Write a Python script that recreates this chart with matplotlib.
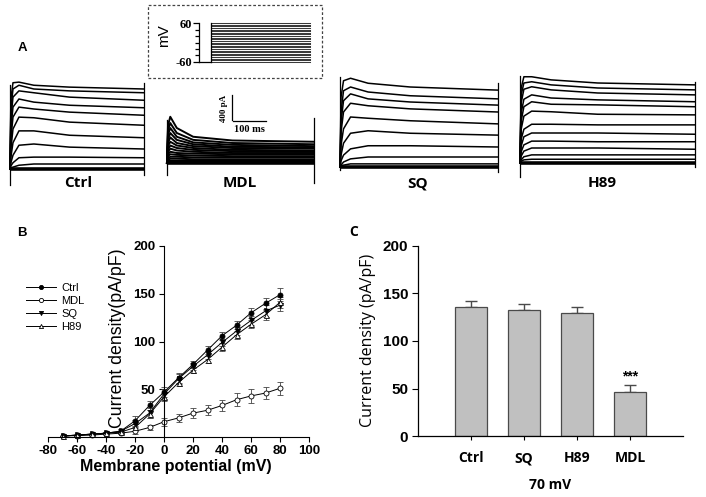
import matplotlib
matplotlib.use('Agg')
import matplotlib.pyplot as plt
from matplotlib.patches import Rectangle
from matplotlib.lines import Line2D
from matplotlib.ticker import MultipleLocator

plt.rcParams['axes.unicode_minus'] = False

# ---------------- data ----------------
trace_time_ms = [0, 3, 10, 30, 80, 200, 450]

ctrl_traces_pA = [
    [0, 1120, 1380, 1390, 1340, 1310, 1280],
    [0, 960, 1280, 1340, 1280, 1250, 1220],
    [0, 800, 1150, 1250, 1220, 1150, 1100],
    [0, 640, 990, 1120, 1070, 1020, 980],
    [0, 480, 830, 990, 960, 910, 860],
    [0, 320, 640, 830, 820, 750, 700],
    [0, 190, 420, 610, 610, 540, 500],
    [0, 100, 220, 380, 400, 350, 320],
    [0, 50, 100, 180, 190, 190, 180],
    [0, 20, 30, 60, 80, 80, 80],
]
mdl_traces_pA = [
    [0, 600, 740, 560, 420, 360, 340],
    [0, 520, 640, 480, 370, 320, 300],
    [0, 450, 560, 420, 330, 290, 270],
    [0, 380, 480, 370, 300, 260, 250],
    [0, 320, 410, 320, 270, 240, 230],
    [0, 270, 340, 280, 240, 210, 200],
    [0, 220, 280, 240, 210, 190, 180],
    [0, 180, 230, 200, 180, 160, 160],
    [0, 140, 180, 160, 150, 140, 140],
    [0, 110, 140, 130, 120, 110, 110],
    [0, 80, 100, 100, 90, 90, 90],
    [0, 50, 70, 70, 60, 60, 60],
    [0, 30, 40, 40, 40, 40, 40],
    [0, 10, 20, 20, 20, 20, 20],
]
sq_traces_pA = [
    [0, 1120, 1380, 1420, 1340, 1280, 1230],
    [0, 880, 1220, 1280, 1200, 1140, 1090],
    [0, 720, 1060, 1170, 1090, 1040, 990],
    [0, 560, 880, 1020, 980, 930, 880],
    [0, 350, 610, 800, 780, 740, 690],
    [0, 190, 380, 540, 580, 540, 510],
    [0, 100, 190, 290, 340, 340, 320],
    [0, 30, 80, 130, 160, 160, 160],
    [0, 20, 30, 50, 50, 50, 50],
]
h89_traces_pA = [
    [0, 1200, 1380, 1380, 1330, 1280, 1250],
    [0, 1090, 1280, 1300, 1250, 1200, 1170],
    [0, 960, 1180, 1220, 1170, 1120, 1090],
    [0, 800, 1020, 1090, 1040, 1010, 980],
    [0, 670, 900, 980, 940, 930, 900],
    [0, 540, 750, 830, 820, 780, 770],
    [0, 380, 540, 620, 620, 610, 610],
    [0, 270, 420, 480, 480, 480, 460],
    [0, 180, 290, 350, 350, 340, 340],
    [0, 110, 190, 240, 240, 240, 220],
    [0, 50, 100, 130, 130, 130, 130],
    [0, 30, 50, 60, 60, 60, 60],
]
# capacitive transients (min, max) at pulse onset and offset, pA
ctrl_on_off_transients = [[-260, 1350], [-100, 1380]]
mdl_on_off_transients = [[-190, 690], [-320, 720]]
sq_on_off_transients = [[-50, 1440], [-80, 1340]]
h89_on_off_transients = [[-230, 1400], [-70, 1300]]

trace_labels = ['Ctrl', 'MDL', 'SQ', 'H89']
scale_bar_pA = 400
scale_bar_ms = 100

protocol_levels_mV = [-60, -55, -50, -45, -40, -35, -30, -25, -20, -15, -10, -5, 0,
                      5, 10, 15, 20, 25, 30, 35, 40, 45, 50, 55, 60]
protocol_holding_mV = -60
protocol_step_ms = [0, 400]
protocol_hold_ms = [-50, 0]

iv_voltage_mV = [-70, -60, -50, -40, -30, -20, -10, 0, 10, 20, 30, 40, 50, 60, 70, 80]
iv_ctrl = [1, 2, 3, 4, 6, 17, 33, 47, 62, 76, 91, 106, 117, 130, 140, 149]
iv_mdl = [1, 1.5, 2, 3, 4, 6, 10, 16, 20, 25, 28, 33, 39, 43, 46, 51]
iv_sq = [1, 2, 3, 4, 6, 14, 25, 45, 61, 74, 86, 99, 111, 122, 132, 138]
iv_h89 = [1, 2, 3, 4, 5, 10, 24, 42, 57, 70, 81, 94, 107, 118, 128, 141]
iv_ctrl_err = [0.5, 0.5, 0.5, 1, 2, 5, 5, 5, 5, 4, 4, 4, 4, 5, 6, 7]
iv_mdl_err = [0.5, 0.5, 0.5, 1, 1, 3, 3, 4, 4, 5, 5, 6, 7, 7, 6, 7]
iv_sq_err = [0.5, 0.5, 0.5, 1, 2, 4, 5, 5, 5, 4, 4, 4, 4, 5, 6, 6]
iv_h89_err = [0.5, 0.5, 0.5, 1, 2, 4, 4, 4, 4, 3, 4, 4, 4, 4, 5, 6]

bar_groups = ['Ctrl', 'SQ', 'H89', 'MDL']
bar_means = [136, 133, 129, 46]
bar_sem = [6, 6, 7, 8]
bar_sig = ['', '', '', '***']

# ---------------- figure ----------------
W, H = 706, 497
fig = plt.figure(figsize=(W / 100, H / 100), dpi=100)
SANS = 'Liberation Sans'
KOR = 'Open Sans'
SERIF = 'Liberation Serif'


def px_axes(x0, y0, x1, y1):
    return fig.add_axes([x0 / W, 1 - y1 / H, (x1 - x0) / W, (y1 - y0) / H])


def ftext(x, y, s, **kw):
    fig.text(x / W, 1 - y / H, s, **kw)


# ---- Panel A: current traces ----
PA_PER_PX = 16
trace_panels = [
    (10, 144, 169, ctrl_traces_pA, ctrl_on_off_transients, 1.1),
    (167, 314, 163, mdl_traces_pA, mdl_on_off_transients, 1.4),
    (340, 498, 167, sq_traces_pA, sq_on_off_transients, 1.1),
    (520, 695, 163, h89_traces_pA, h89_on_off_transients, 1.1),
]
t_end = trace_time_ms[-1]
axes_A = []
for (x0, x1, base, traces, trans, lw_tr) in trace_panels:
    ax = px_axes(x0, 60, x1, 190)
    ax.set_xlim(0, t_end)
    ax.set_ylim((base - 190) * PA_PER_PX, (base - 60) * PA_PER_PX)
    ax.axis('off')
    for tr in traces:
        ax.plot(trace_time_ms, tr, color='black', lw=lw_tr, clip_on=False)
    ax.plot([0, t_end], [0, 0], color='black', lw=2.6, clip_on=False,
            solid_capstyle='butt')
    ax.plot([0, 0], trans[0], color='black', lw=0.9, clip_on=False)
    ax.plot([t_end, t_end], trans[1], color='black', lw=0.9, clip_on=False)
    axes_A.append(ax)

# scale bar in MDL panel
ax_m = axes_A[1]
sb_t = 199
sb_y = 690
ax_m.plot([sb_t, sb_t], [sb_y, sb_y + scale_bar_pA], color='black', lw=0.9, clip_on=False)
ax_m.plot([sb_t + 3, sb_t + 3 + scale_bar_ms], [sb_y - 16, sb_y - 16], color='black',
          lw=0.9, clip_on=False)
ftext(224, 108, '%d pA' % scale_bar_pA, rotation=90, ha='center', va='center',
      fontsize=6.5, fontweight='bold', family=SERIF)
ftext(249, 129, '%d ms' % scale_bar_ms, ha='center', va='center',
      fontsize=7.5, fontweight='bold', family=SERIF)

for lab, (x, y) in zip(trace_labels, [(78, 183), (240, 183), (418, 183), (602, 183)]):
    ftext(x, y, lab, ha='center', va='center', fontsize=11, fontweight='bold', family=KOR)

ftext(22, 48, 'A', ha='center', va='center', fontsize=9.5, fontweight='bold', family=SANS)

# ---- protocol inset ----
fig.add_artist(Rectangle((148 / W, 1 - 78 / H), (322 - 148) / W, (78 - 5) / H,
                         transform=fig.transFigure, fill=False, edgecolor='#444',
                         lw=0.9, ls=(0, (2.2, 1.6))))
axp = px_axes(199, 23, 310, 62)
axp.set_xlim(protocol_hold_ms[0], protocol_step_ms[1])
axp.set_ylim(-60, 60)
for v in protocol_levels_mV:
    axp.plot(protocol_step_ms, [v, v], color='#3a3a3a', lw=0.75, clip_on=False)
axp.plot(protocol_hold_ms, [protocol_holding_mV] * 2, color='black', lw=0.9, clip_on=False)
axp.plot([0, 0], [protocol_holding_mV, max(protocol_levels_mV)], color='black', lw=0.9,
         clip_on=False)
for s in ['top', 'right', 'bottom']:
    axp.spines[s].set_visible(False)
axp.spines['left'].set_linewidth(0.9)
axp.set_xticks([])
axp.set_yticks([-60, 60])
axp.yaxis.set_minor_locator(MultipleLocator(20))
axp.tick_params(axis='y', which='major', length=4, width=0.9, pad=1, labelsize=9)
axp.tick_params(axis='y', which='minor', length=3, width=0.9)
for t in axp.get_yticklabels():
    t.set_fontfamily(SERIF)
    t.set_fontweight('bold')
axp.patch.set_visible(False)
ftext(164, 36, 'mV', rotation=90, ha='center', va='center', fontsize=11, family=SANS)

# ---- Panel B: I-V curves ----
axb = px_axes(48, 246, 309, 437)
axb.set_xlim(-80, 100)
axb.set_ylim(0, 200)
axb.spines['left'].set_position(('data', 0))
axb.spines['top'].set_visible(False)
axb.spines['right'].set_visible(False)
for s in ['left', 'bottom']:
    axb.spines[s].set_linewidth(0.8)
axb.set_xticks(range(-80, 101, 20))
axb.set_yticks([50, 100, 150, 200])
axb.tick_params(length=3.5, width=0.8, labelsize=9.5, pad=2.5)
for t in axb.get_xticklabels() + axb.get_yticklabels():
    t.set_fontfamily(SANS)
    t.set_fontweight('bold')
axb.patch.set_visible(False)

series = [
    ('Ctrl', iv_ctrl, iv_ctrl_err, 'o', 'black'),
    ('MDL', iv_mdl, iv_mdl_err, 'o', 'white'),
    ('SQ', iv_sq, iv_sq_err, 'v', 'black'),
    ('H89', iv_h89, iv_h89_err, '^', 'white'),
]
handles = []
for name, y, e, m, fc in series:
    axb.errorbar(iv_voltage_mV, y, yerr=e, fmt='-', color='black', lw=0.7,
                 marker=m, ms=3.6, mfc=fc, mec='black', mew=0.6,
                 ecolor='#444', elinewidth=0.6, capsize=2.2, capthick=0.6,
                 clip_on=False)
    handles.append(Line2D([], [], color='black', lw=0.7, marker=m, ms=3.0,
                          mfc=fc, mec='black', mew=0.6))
leg = axb.legend(handles, [s[0] for s in series], loc='upper left',
                 bbox_to_anchor=(26 / W, 1 - 283 / H), bbox_transform=fig.transFigure,
                 frameon=False, borderpad=0, borderaxespad=0, handlelength=2.7,
                 handletextpad=0.5, labelspacing=0.28,
                 prop={'family': SANS, 'size': 8})

ftext(118, 338, 'Current density(pA/pF)', rotation=90, ha='center', va='center',
      fontsize=12.8, family=SANS)
ftext(176, 467, 'Membrane potential (mV)', ha='center', va='center',
      fontsize=11.5, fontweight='bold', family=SANS)
ftext(22, 233, 'B', ha='center', va='center', fontsize=9.5, fontweight='bold', family=SANS)

# ---- Panel C: bar chart ----
axc = px_axes(418, 246, 683, 436)
xpos = list(range(len(bar_groups)))
axc.bar(xpos, bar_means, width=0.62, color='#c0c0c0', edgecolor='#4a4a4a', lw=0.9,
        zorder=2)
axc.errorbar(xpos, bar_means, yerr=[[0] * len(bar_means), bar_sem], fmt='none',
             ecolor='#4a4a4a', elinewidth=1.0, capsize=4, capthick=1.0, zorder=1)
for xi, m, e, s in zip(xpos, bar_means, bar_sem, bar_sig):
    if s:
        axc.text(xi, m + e + 1, s, ha='center', va='bottom', fontsize=10,
                 fontweight='bold', family=SANS)
axc.set_xlim(-1, 4)
axc.set_ylim(0, 200)
axc.spines['top'].set_visible(False)
axc.spines['right'].set_visible(False)
for s in ['left', 'bottom']:
    axc.spines[s].set_linewidth(0.9)
axc.set_xticks(xpos)
axc.set_xticklabels(bar_groups)
axc.set_yticks([0, 50, 100, 150, 200])
axc.tick_params(axis='x', length=3, width=0.8, pad=8, labelsize=10)
axc.tick_params(axis='y', length=4, width=0.8, pad=3, labelsize=11)
for t in axc.get_xticklabels():
    t.set_fontfamily(KOR)
    t.set_fontweight('bold')
for t in axc.get_yticklabels():
    t.set_fontfamily(SANS)
    t.set_fontweight('bold')
axc.patch.set_visible(False)

ftext(368, 340, 'Current density (pA/pF)', rotation=90, ha='center', va='center',
      fontsize=11.5, family=KOR)
ftext(550, 485, '70 mV', ha='center', va='center', fontsize=10, fontweight='bold',
      family=KOR)
ftext(354, 232, 'C', ha='center', va='center', fontsize=10, fontweight='bold', family=KOR)

fig.savefig('out.png', dpi=100)
